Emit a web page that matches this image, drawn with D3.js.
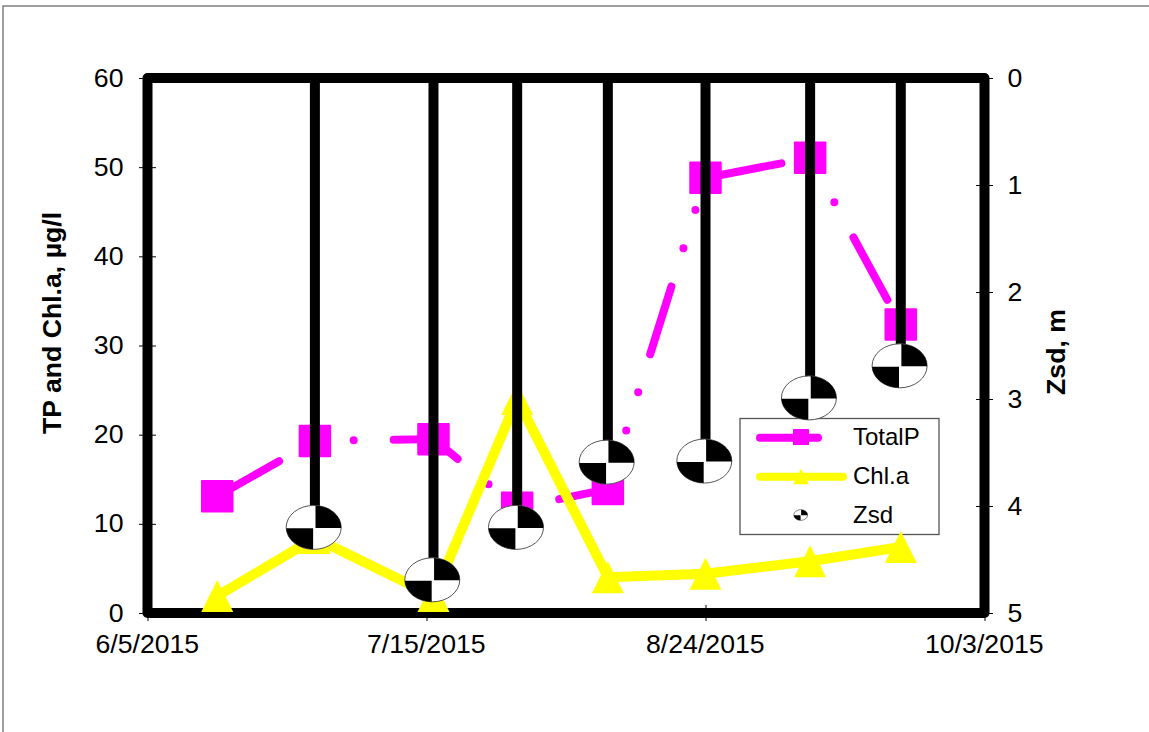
<!DOCTYPE html>
<html>
<head>
<meta charset="utf-8">
<script src="https://cdn.jsdelivr.net/npm/d3@7/dist/d3.min.js"></script>
<style>
html,body{margin:0;padding:0;background:#fff;overflow:hidden}
svg{display:block}
text{font-family:"Liberation Sans",Arial,sans-serif;fill:#000}
</style>
</head>
<body>
<svg id="c" width="1149" height="732"></svg>
<script>
const dates = ["2015-06-15","2015-06-29","2015-07-16","2015-07-28","2015-08-10","2015-08-24","2015-09-08","2015-09-21"];
const totalP = [13.1,19.3,19.5,11.8,13.9,48.8,51.05,32.35];
const chla = [1.9,8.4,1.9,24,4,4.4,5.8,7.4];
const zsdDates = ["2015-06-29","2015-07-16","2015-07-28","2015-08-10","2015-08-24","2015-09-08","2015-09-21"];
const zsd = [4.2,4.69,4.2,3.59,3.58,2.99,2.69];
const xTickDates = ["2015-06-05","2015-07-15","2015-08-24","2015-10-03"];
const xTickLabels = ["6/5/2015","7/15/2015","8/24/2015","10/3/2015"];
const leftTicks = [0,10,20,30,40,50,60];
const rightTicks = [0,1,2,3,4,5];
const legendLabels = ["TotalP","Chl.a","Zsd"];

const MAGENTA="#ff00ff", YELLOW="#ffff00";
const svg=d3.select("#c");
const L=147.5,R=984.5,T=78,B=613;
const d=s=>new Date(s+"T00:00:00Z");
const x=d3.scaleUtc().domain([d(xTickDates[0]),d(xTickDates[3])]).range([L,R]);
const yL=d3.scaleLinear().domain([0,60]).range([B,T]);
const yR=d3.scaleLinear().domain([0,5]).range([T,B]);

// outer chart-area border (runs off the picture on the right and bottom)
svg.append("path").attr("d","M3,740V6H1160").attr("fill","none").attr("stroke","#808080").attr("stroke-width",1.5);

const FS=26.67;
function styleAxis(g){
  g.select(".domain").remove();
  g.selectAll("text").attr("font-size",FS).attr("font-family",'"Liberation Sans",Arial,sans-serif');
  g.selectAll("line").attr("stroke","#000").attr("stroke-width",1);
}
const gl=svg.append("g").attr("transform",`translate(${L},0)`)
  .call(d3.axisLeft(yL).tickValues(leftTicks).tickFormat(d3.format("d")).tickSize(8.5).tickPadding(15.5)).call(styleAxis);
gl.selectAll("line").attr("x2",-8.5).attr("x1",8.5);
gl.selectAll("text").attr("dy",null).attr("y",8);
const gr=svg.append("g").attr("transform",`translate(${R},0)`)
  .call(d3.axisRight(yR).tickValues(rightTicks).tickFormat(d3.format("d")).tickSize(8.5).tickPadding(14.5)).call(styleAxis);
gr.selectAll("line").attr("x1",-8.5).attr("x2",8.5);
gr.selectAll("text").attr("dy",null).attr("y",8);
const gx=svg.append("g").attr("transform",`translate(0,${B})`)
  .call(d3.axisBottom(x).tickValues(xTickDates.map(d)).tickFormat((_,i)=>xTickLabels[i]).tickSize(8)).call(styleAxis);
gx.selectAll("line").attr("y1",-8).attr("y2",8);
gx.selectAll("text").attr("dy",null).attr("y",40).attr("x",-0.7);

// titles
svg.append("text").attr("transform","translate(61,323) rotate(-90)").attr("text-anchor","middle")
  .attr("font-size",FS).attr("font-weight","bold").text("TP and Chl.a, µg/l");
svg.append("text").attr("transform","translate(1065,352) rotate(-90)").attr("text-anchor","middle")
  .attr("font-size",FS).attr("font-weight","bold").text("Zsd, m");

// plot frame
svg.append("rect").attr("x",L).attr("y",T).attr("width",R-L).attr("height",B-T)
  .attr("fill","none").attr("stroke","#000").attr("stroke-width",10).attr("stroke-linejoin","round");

// marker helpers
function square(g,cx,cy,s){g.append("rect").attr("x",cx-s/2).attr("y",cy-s/2).attr("width",s).attr("height",s).attr("rx",s/32).attr("fill",MAGENTA);}
function tri(g,cx,cy,s){g.append("path").attr("d",`M${cx},${cy-s/2}L${cx+s/2},${cy+s/2}L${cx-s/2},${cy+s/2}Z`).attr("fill",YELLOW);}
function disc(g,cx,cy,rx,ry){
  const k=rx/27.5;
  g.append("ellipse").attr("cx",cx).attr("cy",cy).attr("rx",rx).attr("ry",ry).attr("fill","#fff").attr("stroke","#555").attr("stroke-width",Math.max(.7,1*k));
  const tx=1.8*k,ty=.5*k,bx=.6*k,by=.9*k;
  g.append("path").attr("fill","#000")
    .attr("d",`M${cx+tx},${cy+ty}L${cx+tx},${cy-ry*.995}A${rx},${ry} 0 0 1 ${cx+rx},${cy+ty}Z`);
  g.append("path").attr("fill","#000")
    .attr("d",`M${cx-bx},${cy+by}L${cx-rx},${cy+by}A${rx},${ry} 0 0 0 ${cx-bx},${cy+ry*.995}Z`);
}

// legend (underneath the series)
const lg=svg.append("g");
lg.append("rect").attr("x",740).attr("y",418.5).attr("width",199).attr("height",116).attr("fill","#fff").attr("stroke","#555").attr("stroke-width",1.3);
lg.append("line").attr("x1",760).attr("x2",818).attr("y1",437.7).attr("y2",437.7).attr("stroke",MAGENTA).attr("stroke-width",8).attr("stroke-linecap","round");
square(lg,801,437,16);
lg.append("line").attr("x1",760).attr("x2",843).attr("y1",476.7).attr("y2",476.7).attr("stroke",YELLOW).attr("stroke-width",8).attr("stroke-linecap","round");
tri(lg,801,476.5,15.5);
disc(lg,800.7,515,6.9,5.4);
[445,484,523].forEach((b,i)=>lg.append("text").attr("x",853).attr("y",b).attr("font-size",24).text(legendLabels[i]));

// TotalP
const lineP=d3.line().x((v,i)=>x(d(dates[i]))).y(v=>yL(v));
svg.append("path").attr("d",lineP(totalP)).attr("fill","none").attr("stroke",MAGENTA).attr("stroke-width",8)
  .attr("stroke-linecap","round").attr("stroke-linejoin","round").attr("stroke-dasharray","71 40 0 40 0 40");
totalP.forEach((v,i)=>square(svg,x(d(dates[i])),yL(v),32.5));

// Chl.a
svg.append("path").attr("d",lineP(chla)).attr("fill","none").attr("stroke",YELLOW).attr("stroke-width",10).attr("stroke-linejoin","round");
chla.forEach((v,i)=>tri(svg,x(d(dates[i])),yL(v),32));

// Zsd drop lines and markers
zsd.forEach((v,i)=>{
  const px=x(d(zsdDates[i]));
  svg.append("line").attr("x1",px).attr("x2",px).attr("y1",yR(0)).attr("y2",yR(v)).attr("stroke","#000").attr("stroke-width",10);
});
zsd.forEach((v,i)=>disc(svg,x(d(zsdDates[i]))-1.2,yR(v),27.5,22));
</script>
</body>
</html>
